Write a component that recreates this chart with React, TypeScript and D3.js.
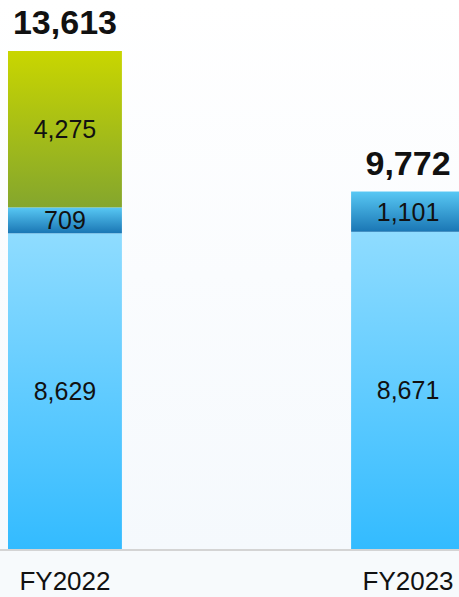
import React from 'react'
import * as d3 from 'd3'

const categories = ['FY2022', 'FY2023']
const baseValues = [8629, 8671]
const midValues = [709, 1101]
const topValues = [4275, 0]
const totals = [13613, 9772]

const width = 459
const height = 597
const baseY = 549
const topY = 51

const fmt = d3.format(',')

const series = [
  { key: 'base', values: baseValues, grad: 'gBase' },
  { key: 'mid', values: midValues, grad: 'gMid' },
  { key: 'top', values: topValues, grad: 'gTop' }
]

export default function App() {
  const x = d3.scaleBand<string>().domain(categories).range([8, 465]).paddingInner(0.668).paddingOuter(0)
  const y = d3.scaleLinear().domain([0, d3.max(totals) as number]).range([baseY, topY])

  const rows = categories.map((c, i) => {
    let acc = 0
    return series.map((s) => {
      const v = s.values[i]
      const y0 = acc
      acc += v
      return { cat: c, key: s.key, grad: s.grad, v, y0, y1: acc }
    })
  })

  return (
    <svg width={width} height={height} style={{ position: 'absolute', left: 0, top: 0, fontFamily: 'Arial, "Liberation Sans", sans-serif' }}>
      <defs>
        <linearGradient id="bg" x1="0" y1="0" x2="0" y2="1">
          <stop offset="0" stopColor="#ffffff" />
          <stop offset="1" stopColor="#f5f9fd" />
        </linearGradient>
        <linearGradient id="gBase" x1="0" y1="0" x2="0" y2="1">
          <stop offset="0" stopColor="#8fdcff" />
          <stop offset="1" stopColor="#33bbff" />
        </linearGradient>
        <linearGradient id="gMid" x1="0" y1="0" x2="0" y2="1">
          <stop offset="0" stopColor="#58c8f4" />
          <stop offset="1" stopColor="#1a76b4" />
        </linearGradient>
        <linearGradient id="gTop" x1="0" y1="0" x2="0" y2="1">
          <stop offset="0" stopColor="#c9d600" />
          <stop offset="1" stopColor="#84a62d" />
        </linearGradient>
      </defs>
      <rect x={0} y={0} width={width} height={baseY} fill="url(#bg)" />
      <rect x={0} y={baseY} width={width} height={height - baseY} fill="#f7fafc" />
      {rows.map((segs, i) => (
        <g key={categories[i]}>
          {segs.filter((s) => s.v > 0).map((s) => {
            const yt = y(s.y1)
            const yb = y(s.y0)
            return (
              <g key={s.key}>
                <rect x={x(s.cat)} y={yt} width={x.bandwidth()} height={yb - yt} fill={`url(#${s.grad})`} />
                <text
                  x={(x(s.cat) as number) + x.bandwidth() / 2}
                  y={(yt + yb) / 2 + 9}
                  textAnchor="middle"
                  fontSize={25}
                  fill="#111"
                >
                  {fmt(s.v)}
                </text>
              </g>
            )
          })}
          <text
            x={(x(categories[i]) as number) + x.bandwidth() / 2}
            y={y(totals[i]) - 17}
            textAnchor="middle"
            fontSize={34}
            fontWeight="bold"
            fill="#111"
          >
            {fmt(totals[i])}
          </text>
          <text
            x={(x(categories[i]) as number) + x.bandwidth() / 2}
            y={590}
            textAnchor="middle"
            fontSize={26}
            fill="#111"
          >
            {categories[i]}
          </text>
        </g>
      ))}
      <line x1={0} x2={width} y1={baseY + 1} y2={baseY + 1} stroke="#d4d4d4" strokeWidth={2} />
    </svg>
  )
}
